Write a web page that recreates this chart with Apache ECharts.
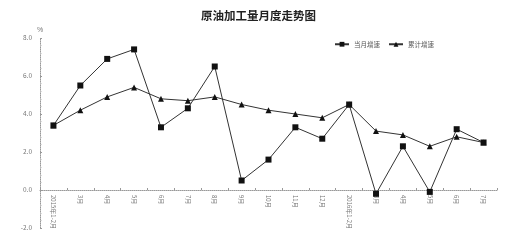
<!DOCTYPE html>
<html><head><meta charset="utf-8">
<script src="https://cdn.jsdelivr.net/npm/echarts@6/dist/echarts.min.js"></script>
<style>html,body{margin:0;padding:0;background:#fff}#c{width:517px;height:245px}</style>
</head><body><div id="c"></div>
<script>
const categories = ['2015年1-2月','3月','4月','5月','6月','7月','8月','9月','10月','11月','12月','2016年1-2月','3月','4月','5月','6月','7月'];
const monthly = [3.4,5.5,6.9,7.4,3.3,4.3,6.5,0.5,1.6,3.3,2.7,4.5,-0.2,2.3,-0.1,3.2,2.5];
const cumulative = [3.4,4.2,4.9,5.4,4.8,4.7,4.9,4.5,4.2,4.0,3.8,4.5,3.1,2.9,2.3,2.8,2.5];
const yTicks = [-2, 0, 2, 4, 6, 8];
const names = ['当月增速','累计增速'];

const chart = echarts.init(document.getElementById('c'));
const font = '"Noto Sans CJK SC", sans-serif';
const gridH = 245 - 38 - 17;
const zeroOffset = -gridH * (0 - yTicks[0]) / (yTicks[yTicks.length-1] - yTicks[0]);
chart.setOption({
  animation:false,
  title:{text:'原油加工量月度走势图', left:'center', top:5,
    textStyle:{fontSize:11.5, fontWeight:'bold', color:'#222', fontFamily:font}},
  legend:{top:36, left:329, itemWidth:14, itemHeight:6, itemGap:8,
    textStyle:{fontSize:6.5, color:'#555', fontFamily:font},
    data:names},
  grid:{left:40, right:20, top:38, bottom:17, containLabel:false, outerBoundsMode:'none'},
  xAxis:{type:'category', data:categories, boundaryGap:true, offset:zeroOffset,
    axisLine:{onZero:false, lineStyle:{color:'#999', type:'dotted', width:1}},
    axisTick:{show:true, inside:true, length:2, lineStyle:{color:'#999'}},
    axisLabel:{rotate:-90, fontSize:6, color:'#777', margin:5, interval:0, fontFamily:font,
      overflow:'none', width:200, hideOverlap:false}},
  yAxis:{type:'value', min:yTicks[0], max:yTicks[yTicks.length-1], interval:2,
    name:'%', nameLocation:'end', nameGap:4, nameTextStyle:{fontSize:7, color:'#777', align:'center'},
    axisLine:{show:true, lineStyle:{color:'#999', type:'dotted'}},
    axisTick:{show:true, inside:true, length:2, lineStyle:{color:'#999'}},
    minorTick:{show:true, splitNumber:5, length:1.5, lineStyle:{color:'#bbb'}},
    splitLine:{show:false},
    axisLabel:{fontSize:6.5, color:'#777', margin:8, formatter:v=>v.toFixed(1), fontFamily:font}},
  series:[
    {name:names[0], type:'line', data:monthly, symbol:'rect', symbolSize:6,
      lineStyle:{color:'#333', width:1}, itemStyle:{color:'#111'}},
    {name:names[1], type:'line', data:cumulative, symbol:'triangle', symbolSize:6,
      lineStyle:{color:'#333', width:1}, itemStyle:{color:'#111'}}
  ]
});
</script></body></html>
